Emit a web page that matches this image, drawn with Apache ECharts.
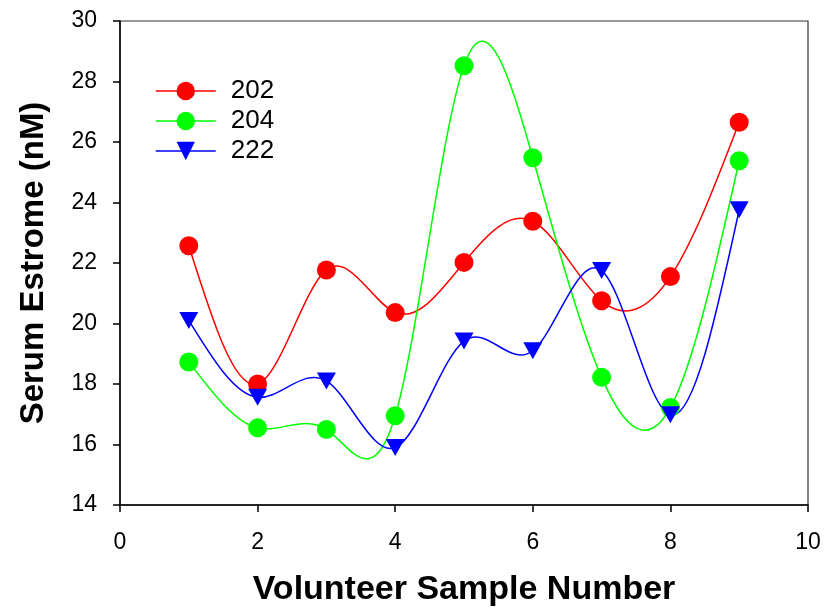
<!DOCTYPE html>
<html>
<head>
<meta charset="utf-8">
<script src="https://cdn.jsdelivr.net/npm/echarts@6/dist/echarts.min.js"></script>
<style>
    html, body {margin: 0; padding: 0; background: #fff;}
    #chart {width: 833px; height: 609px;}
</style>
</head>
<body>
<div id="chart"></div>
<script>
var sampleNumbers = [1, 2, 3, 4, 5, 6, 7, 8, 9];
var values202     = [22.57, 18.0, 21.77, 20.36, 22.02, 23.38, 20.75, 21.55, 26.65];
var values204     = [18.73, 16.55, 16.5, 16.95, 28.52, 25.48, 18.22, 17.22, 25.38];
var values222     = [20.1, 17.56, 18.1, 15.9, 19.42, 19.1, 21.75, 16.98, 23.76];

var xTicks = [0, 2, 4, 6, 8, 10];
var yTicks = [14, 16, 18, 20, 22, 24, 26, 28, 30];

var FONT = 'Arial, "Liberation Sans", sans-serif';

/* Natural cubic spline slopes (unit spacing), used to draw the curve as bezier segments. */
function splineSlopes(ys)
{
    var n = ys.length;
    var m = new Array(n).fill(0);
    var c = new Array(n).fill(0);
    var d = new Array(n).fill(0);
    for(var i = 1; i < n - 1; i++)
    {
        var rhs = 6 * (ys[i + 1] - 2 * ys[i] + ys[i - 1]);
        var den = 4 - (i > 1 ? c[i - 1] : 0);
        c[i] = 1 / den;
        d[i] = (rhs - (i > 1 ? d[i - 1] : 0)) / den;
    }
    for(var i = n - 2; i >= 1; i--) m[i] = d[i] - c[i] * m[i + 1];

    var start = [], end = [];
    for(var i = 0; i < n - 1; i++)
    {
        var dy = ys[i + 1] - ys[i];
        start.push(dy - (2 * m[i] + m[i + 1]) / 6);
        end.push(dy + (m[i] + 2 * m[i + 1]) / 6);
    }
    return {start: start, end: end};
}

function curveSeries(name, ys, color)
{
    var sl = splineSlopes(ys);
    return {
        type: 'custom',
        name: name + ' curve',
        silent: true,
        z: 1,
        data: ys.map(function(y, i) { return [sampleNumbers[i], y]; }),
        renderItem: function(params, api)
        {
            var i = params.dataIndex;
            if(i >= ys.length - 1) return null;
            var x0 = sampleNumbers[i], x1 = sampleNumbers[i + 1], h = x1 - x0;
            var p0 = api.coord([x0, ys[i]]);
            var p1 = api.coord([x1, ys[i + 1]]);
            var c1 = api.coord([x0 + h / 3, ys[i] + sl.start[i] * h / 3]);
            var c2 = api.coord([x1 - h / 3, ys[i + 1] - sl.end[i] * h / 3]);
            return {
                type: 'bezierCurve',
                shape: {x1: p0[0], y1: p0[1], x2: p1[0], y2: p1[1], cpx1: c1[0], cpy1: c1[1], cpx2: c2[0], cpy2: c2[1]},
                style: {stroke: color, lineWidth: 1.5, fill: null}
            };
        }
    };
}

function markerSeries(name, ys, color, symbol, size, rotate)
{
    return {
        type: 'line',
        name: name,
        data: ys.map(function(y, i) { return [sampleNumbers[i], y]; }),
        symbol: symbol,
        symbolSize: size,
        symbolRotate: rotate,
        showAllSymbol: true,
        z: 3,
        itemStyle: {color: color, opacity: 1},
        lineStyle: {color: color, width: 1.5, opacity: 0},
        emphasis: {disabled: true}
    };
}

var chart = echarts.init(document.getElementById('chart'));

chart.setOption({
    animation: false,
    backgroundColor: '#fff',
    grid: {left: 120, right: 25, top: 21, bottom: 104, outerBoundsMode: 'none', show: true, borderColor: '#333', borderWidth: 1.2},
    legend: {
        data: ['202', '204', '222'],
        orient: 'vertical',
        left: 155,
        top: 78,
        padding: 0,
        itemWidth: 60,
        itemHeight: 23,
        itemGap: 4,
        lineStyle: {opacity: 1, width: 1.5},
        textStyle: {fontFamily: FONT, fontSize: 26, color: '#000', padding: [0, 0, 0, 10]}
    },
    xAxis: {
        type: 'value',
        min: xTicks[0],
        max: xTicks[xTicks.length - 1],
        interval: 2,
        name: 'Volunteer Sample Number',
        nameLocation: 'middle',
        nameGap: 68,
        nameTextStyle: {fontFamily: FONT, fontSize: 34, fontWeight: 'bold', color: '#000'},
        axisLine: {lineStyle: {color: '#000', width: 1.5}},
        axisTick: {show: true, inside: false, length: 7, lineStyle: {color: '#000', width: 1.5}},
        axisLabel: {fontFamily: FONT, fontSize: 23, color: '#000', margin: 26},
        splitLine: {show: false}
    },
    yAxis: {
        type: 'value',
        min: yTicks[0],
        max: yTicks[yTicks.length - 1],
        interval: 2,
        name: 'Serum Estrome (nM)',
        nameLocation: 'middle',
        nameGap: 70,
        nameTextStyle: {fontFamily: FONT, fontSize: 33, fontWeight: 'bold', color: '#000'},
        axisLine: {lineStyle: {color: '#000', width: 1.5}},
        axisTick: {show: true, inside: false, length: 7, lineStyle: {color: '#000', width: 1.5}},
        axisLabel: {fontFamily: FONT, fontSize: 23, color: '#000', margin: 23},
        splitLine: {show: false}
    },
    series: [
        curveSeries('202', values202, '#ff0000'),
        curveSeries('204', values204, '#00ff00'),
        curveSeries('222', values222, '#0000ff'),
        markerSeries('202', values202, '#ff0000', 'circle', 19, 0),
        markerSeries('204', values204, '#00ff00', 'circle', 19, 0),
        markerSeries('222', values222, '#0000ff', 'triangle', [19, 17], 180)
    ]
});
</script>
</body>
</html>
